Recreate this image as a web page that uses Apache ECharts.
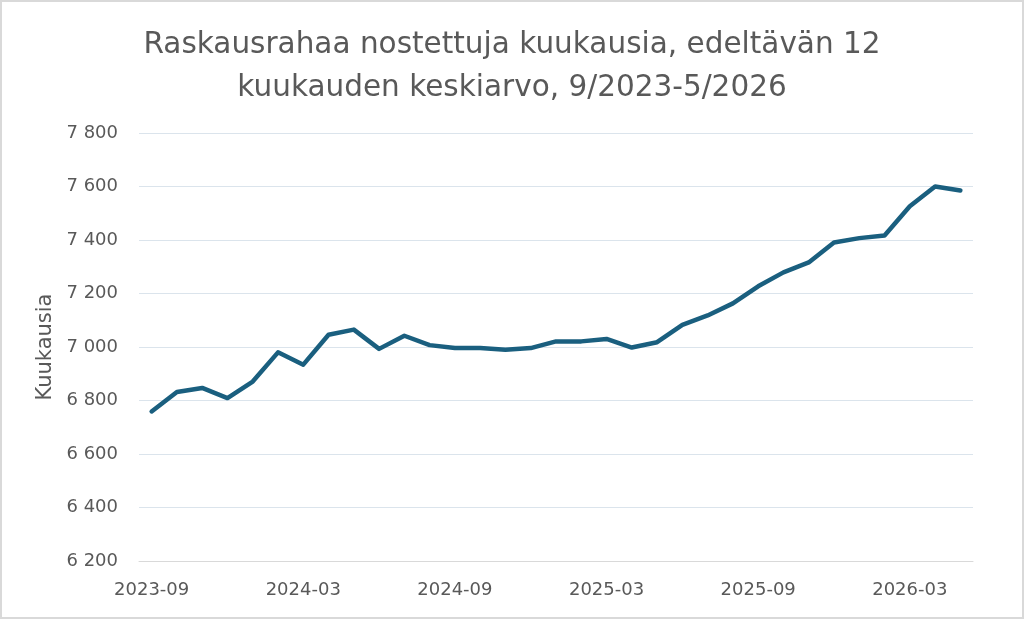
<!DOCTYPE html>
<html>
<head>
<meta charset="utf-8">
<script src="https://cdn.jsdelivr.net/npm/echarts@6/dist/echarts.min.js"></script>
<style>
html,body{margin:0;padding:0;background:#fff;}
#chart{width:1024px;height:619px;}
</style>
</head>
<body>
<div id="chart"></div>
<script>
// kuukaudet
var months = ['2023-09','2023-10','2023-11','2023-12','2024-01','2024-02','2024-03','2024-04','2024-05','2024-06','2024-07','2024-08',
	'2024-09','2024-10','2024-11','2024-12','2025-01','2025-02','2025-03','2025-04','2025-05','2025-06','2025-07','2025-08',
	'2025-09','2025-10','2025-11','2025-12','2026-01','2026-02','2026-03','2026-04','2026-05'];
// edeltävän 12 kk keskiarvo
var avgValues = [6759, 6832, 6847, 6809, 6871, 6980, 6934, 7046, 7065, 6993, 7042, 7007,
	6996, 6996, 6990, 6996, 7021, 7021, 7030, 6998, 7018, 7083, 7118, 7163,
	7227, 7279, 7316, 7391, 7407, 7417, 7526, 7600, 7585];
var yTicks = [6200, 6400, 6600, 6800, 7000, 7200, 7400, 7600, 7800];

var textColor = '#595959';
var fontName = 'DejaVu Sans';

var myChart = echarts.init(document.getElementById('chart'));
var option = {
	animation: false,
	title: {
		text: 'Raskausrahaa nostettuja kuukausia, edeltävän 12\nkuukauden keskiarvo, 9/2023-5/2026',
		left: 'center',
		top: 19,
		textStyle: {
			fontFamily: fontName,
			fontSize: 29.5,
			fontWeight: 'normal',
			color: textColor,
			lineHeight: 43
		}
	},
	graphic: [{
		type: 'rect',
		shape: {x: 1, y: 1, width: 1022, height: 617},
		style: {fill: 'none', stroke: '#d9d9d9', lineWidth: 2},
		silent: true
	}],
	grid: {
		left: 139,
		right: 51,
		top: 133,
		bottom: 58
	},
	xAxis: {
		type: 'category',
		data: months,
		boundaryGap: true,
		axisLine: {lineStyle: {color: '#d9d9d9', width: 1}},
		axisTick: {show: false},
		axisLabel: {
			interval: 5,
			margin: 20,
			fontFamily: fontName,
			fontSize: 18,
			color: textColor
		}
	},
	yAxis: {
		type: 'value',
		min: yTicks[0],
		max: yTicks[yTicks.length - 1],
		interval: 200,
		name: 'Kuukausia',
		nameLocation: 'middle',
		nameGap: 82,
		nameRotate: 90,
		nameTextStyle: {
			fontFamily: fontName,
			fontSize: 21,
			color: textColor
		},
		axisLine: {show: false},
		axisTick: {show: false},
		splitLine: {lineStyle: {color: '#dbe4ec', width: 1}},
		axisLabel: {
			margin: 21,
			fontFamily: fontName,
			fontSize: 18,
			color: textColor,
			formatter: function(v) {
				return String(v).replace(/\B(?=(\d{3})+(?!\d))/g, ' ');
			}
		}
	},
	series: [{
		type: 'line',
		data: avgValues,
		symbol: 'none',
		lineStyle: {color: '#1a5f7f', width: 4.5, cap: 'round', join: 'round'}
	}]
};
myChart.setOption(option);
</script>
</body>
</html>
